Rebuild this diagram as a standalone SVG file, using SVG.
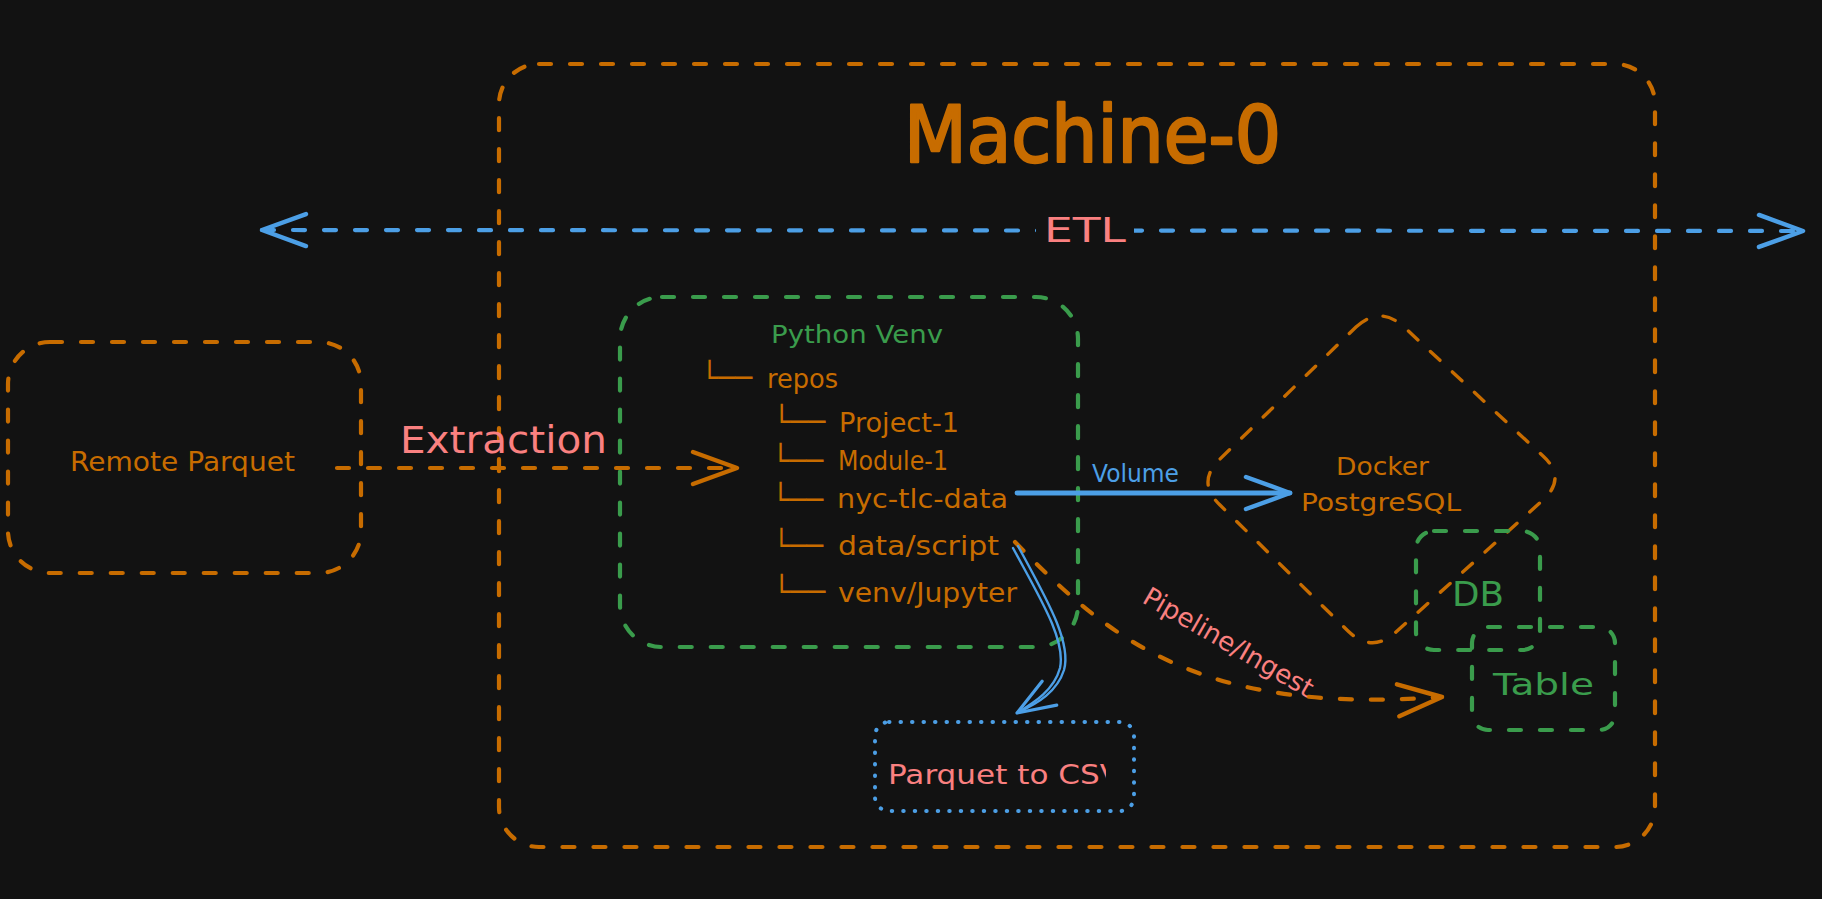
<svg xmlns="http://www.w3.org/2000/svg" width="1822" height="899" viewBox="0 0 1822 899">
<style>
.bg{fill:#121212}
.od{fill:none;stroke:#c76c00;stroke-width:4.2;stroke-dasharray:12 19;stroke-linecap:round}
.odt{fill:none;stroke:#c76c00;stroke-width:3.4;stroke-dasharray:13 17;stroke-linecap:round}
.gd{fill:none;stroke:#3a9c4c;stroke-width:4.2;stroke-dasharray:12 19;stroke-linecap:round}
.bd{fill:none;stroke:#4c9fe6;stroke-width:4.2;stroke-dasharray:12 19;stroke-linecap:round}
.bdot{fill:none;stroke:#4c9fe6;stroke-width:4;stroke-dasharray:0.5 11;stroke-linecap:round}
.bs{fill:none;stroke:#4c9fe6;stroke-width:4.8;stroke-linecap:round}
.bt{fill:none;stroke:#4c9fe6;stroke-width:2.4;stroke-linecap:round}
text{font-family:"DejaVu Sans","Liberation Sans",sans-serif}
.to{fill:#c76c00}
.tg{fill:#3a9c4c}
.tb{fill:#4c9fe6}
.tp{fill:#fa8080}
.tree{fill:#c76c00;font-size:30px}
.item{fill:#c76c00;font-size:26px}
.title{fill:#c76c00;stroke:#c76c00;stroke-width:2.5;stroke-linejoin:round}
</style>
<defs>
<marker id="ah-o" markerUnits="userSpaceOnUse" orient="auto" overflow="visible" refX="0" refY="0"><path d="M-44,-16 L0,0 L-44,16" fill="none" stroke="#c76c00" stroke-width="4.5" stroke-linecap="round" stroke-linejoin="round"/></marker>
<marker id="ah-b" markerUnits="userSpaceOnUse" orient="auto-start-reverse" overflow="visible" refX="0" refY="0"><path d="M-44,-16 L0,0 L-44,16" fill="none" stroke="#4c9fe6" stroke-width="4.5" stroke-linecap="round" stroke-linejoin="round"/></marker>
<marker id="ah-b2" markerUnits="userSpaceOnUse" orient="auto" overflow="visible" refX="0" refY="0"><path d="M-38,-14 L0,0 L-38,14" fill="none" stroke="#4c9fe6" stroke-width="3.2" stroke-linecap="round" stroke-linejoin="round"/></marker>
<clipPath id="csvclip"><rect x="880" y="740" width="226" height="60"/></clipPath>
</defs>
<rect class="bg" x="0" y="0" width="1822" height="899"/>

<g id="machine-0">
<rect class="od" x="499" y="64" width="1156" height="783" rx="40"/>
<text class="title" x="904" y="162" font-size="78" textLength="377" lengthAdjust="spacingAndGlyphs">Machine-0</text>
</g>

<g id="remote-parquet">
<rect class="od" x="8" y="342" width="353" height="231" rx="42"/>
<text class="to" x="70" y="471" font-size="27" textLength="225" lengthAdjust="spacingAndGlyphs">Remote Parquet</text>
</g>

<g id="python-venv">
<rect class="gd" x="620" y="297" width="458" height="350" rx="42"/>
<text class="tg" x="771" y="343" font-size="25" textLength="172" lengthAdjust="spacingAndGlyphs">Python Venv</text>
<text class="tree" x="701" y="388" textLength="51" lengthAdjust="spacingAndGlyphs">└──</text>
<text class="item" x="767" y="388" textLength="71" lengthAdjust="spacingAndGlyphs">repos</text>
<text class="tree" x="773" y="432" textLength="52" lengthAdjust="spacingAndGlyphs">└──</text>
<text class="item" x="839" y="432" textLength="120" lengthAdjust="spacingAndGlyphs">Project-1</text>
<text class="tree" x="772" y="471" textLength="51" lengthAdjust="spacingAndGlyphs">└──</text>
<text class="item" x="838" y="470" font-size="28" textLength="110" lengthAdjust="spacingAndGlyphs">Module-1</text>
<text class="tree" x="772" y="510" textLength="51" lengthAdjust="spacingAndGlyphs">└──</text>
<text class="item" x="837" y="508" textLength="171" lengthAdjust="spacingAndGlyphs">nyc-tlc-data</text>
<text class="tree" x="773" y="556" textLength="50" lengthAdjust="spacingAndGlyphs">└──</text>
<text class="item" x="838" y="555" textLength="161" lengthAdjust="spacingAndGlyphs">data/script</text>
<text class="tree" x="773" y="602" textLength="52" lengthAdjust="spacingAndGlyphs">└──</text>
<text class="item" x="838" y="602" textLength="179" lengthAdjust="spacingAndGlyphs">venv/Jupyter</text>
</g>

<g id="docker-postgresql">
<path class="odt" d="M1356,327 Q1380,305 1404,327 L1543,456 Q1567,478 1543,500 L1396,632 Q1372,654 1348,631 L1220,505 Q1196,482 1220,459 Z"/>
<text class="to" x="1336" y="475" font-size="25" textLength="93" lengthAdjust="spacingAndGlyphs">Docker</text>
<text class="to" x="1301" y="511" font-size="25" textLength="160" lengthAdjust="spacingAndGlyphs">PostgreSQL</text>
</g>

<g id="db">
<rect class="gd" x="1416" y="531" width="124" height="119" rx="18"/>
<text class="tg" x="1452" y="606" font-size="33" textLength="52" lengthAdjust="spacingAndGlyphs">DB</text>
</g>

<g id="table">
<rect class="gd" x="1472" y="627" width="143" height="103" rx="16"/>
<text class="tg" x="1493" y="695" font-size="31" textLength="101" lengthAdjust="spacingAndGlyphs">Table</text>
</g>

<g id="parquet-to-csv">
<rect class="bdot" x="875" y="722" width="259" height="89" rx="14"/>
<text class="tp" x="888" y="784" font-size="27" textLength="233" lengthAdjust="spacingAndGlyphs" clip-path="url(#csvclip)">Parquet to CSV</text>
</g>

<g id="connectors">
<path class="bd" d="M262,230 L1803,231" marker-start="url(#ah-b)" marker-end="url(#ah-b)"/>
<rect class="bg" x="1036" y="212" width="98" height="36"/>
<text class="tp" x="1044" y="242" font-size="34" textLength="82" lengthAdjust="spacingAndGlyphs">ETL</text>

<path class="od" d="M337,468 L737,468" marker-end="url(#ah-o)"/>
<text class="tp" x="400" y="453" font-size="37" textLength="207" lengthAdjust="spacingAndGlyphs">Extraction</text>

<path class="bs" d="M1017,493 L1290,493" marker-end="url(#ah-b)"/>
<text class="tb" x="1092" y="482" font-size="25" textLength="87" lengthAdjust="spacingAndGlyphs">Volume</text>

<path class="od" d="M1015,542 C1110,640 1200,715 1442,697" marker-end="url(#ah-o)"/>
<text class="tp" font-size="26" text-anchor="middle" textLength="192" lengthAdjust="spacingAndGlyphs" transform="translate(1224,650) rotate(30)">Pipeline/Ingest</text>

<path class="bt" d="M1013,548 C1040,598 1066,640 1060,668 C1054,690 1035,702 1017,713" marker-end="url(#ah-b2)"/>
<path class="bt" d="M1018,546 C1046,598 1072,642 1064,670 C1057,692 1038,703 1019,712"/>
</g>
</svg>
